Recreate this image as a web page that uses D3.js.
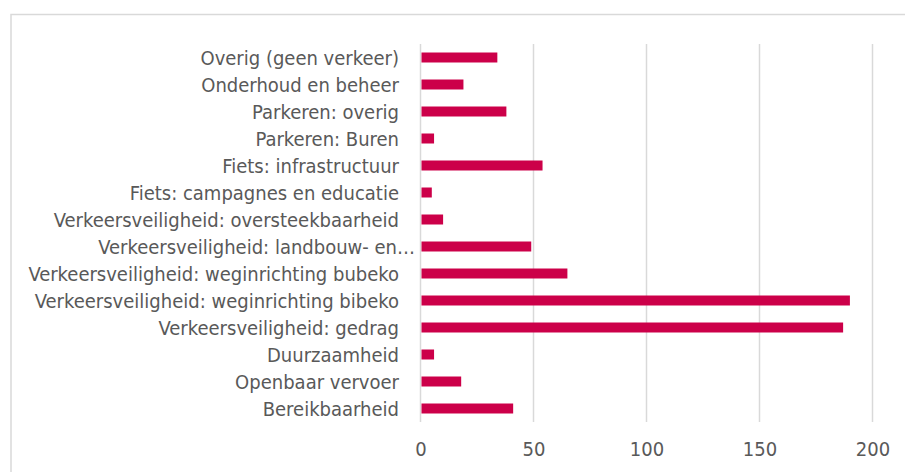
<!DOCTYPE html>
<html>
<head>
<meta charset="utf-8">
<script src="https://cdn.jsdelivr.net/npm/d3@7"></script>
<style>
  body { margin: 0; background: #fff; }
  text { font-family: "Liberation Sans Narrow", "DejaVu Sans Condensed", sans-serif; fill: #595959; }
  .cat { font-size: 20px; }
  .tick text { font-size: 20px; }
</style>
</head>
<body>
<script>
//Global variables
const width = 905;
const height = 472;

//Data (top to bottom as drawn)
const categories = [
  "Overig (geen verkeer)",
  "Onderhoud en beheer",
  "Parkeren: overig",
  "Parkeren: Buren",
  "Fiets: infrastructuur",
  "Fiets: campagnes en educatie",
  "Verkeersveiligheid: oversteekbaarheid",
  "Verkeersveiligheid: landbouw- en…",
  "Verkeersveiligheid: weginrichting bubeko",
  "Verkeersveiligheid: weginrichting bibeko",
  "Verkeersveiligheid: gedrag",
  "Duurzaamheid",
  "Openbaar vervoer",
  "Bereikbaarheid"
];
const values = [34, 19, 38, 6, 54, 5, 10, 49, 65, 190, 187, 6, 18, 41];
const xTicks = [0, 50, 100, 150, 200];

const data = categories.map((c, i) => ({ cat: c, value: values[i] }));

//Scales
const xScale = d3.scaleLinear()
  .domain([0, 200])
  .range([420.5, 872.5]);

const yScale = d3.scaleBand()
  .domain(categories)
  .range([44, 422])
  .paddingInner(0.63)
  .paddingOuter(0.315);

//SVG element
const svg = d3.select("body")
  .append("svg")
  .attr("width", width)
  .attr("height", height);

//Chart border
svg.append("rect")
  .attr("x", 11)
  .attr("y", 14.5)
  .attr("width", 920)
  .attr("height", 480)
  .attr("fill", "none")
  .attr("stroke", "#d9d9d9")
  .attr("stroke-width", 1.5);

//Gridlines
svg.append("g")
  .selectAll("line")
  .data(xTicks)
  .join("line")
  .attr("x1", d => xScale(d))
  .attr("x2", d => xScale(d))
  .attr("y1", 44)
  .attr("y2", 422)
  .attr("stroke", "#d9d9d9")
  .attr("stroke-width", 1.5);

//Bars
svg.append("g")
  .selectAll("rect")
  .data(data)
  .join("rect")
  .attr("x", xScale(0) + 1)
  .attr("y", d => yScale(d.cat))
  .attr("width", d => xScale(d.value) - xScale(0) - 1)
  .attr("height", yScale.bandwidth())
  .attr("fill", "#cc0049");

//Category labels
svg.append("g")
  .selectAll("text")
  .data(data)
  .join("text")
  .attr("class", "cat")
  .attr("x", d => d.cat.endsWith("…") ? 415 : 399)
  .attr("y", d => yScale(d.cat) + yScale.bandwidth() / 2)
  .attr("dy", "0.35em")
  .attr("text-anchor", "end")
  .text(d => d.cat);

//Bottom axis (labels only)
const bottomAxis = d3.axisBottom(xScale)
  .tickValues(xTicks)
  .tickSize(0)
  .tickPadding(0);

svg.append("g")
  .attr("transform", "translate(0,442)")
  .call(bottomAxis)
  .call(g => g.select(".domain").remove());
</script>
</body>
</html>
